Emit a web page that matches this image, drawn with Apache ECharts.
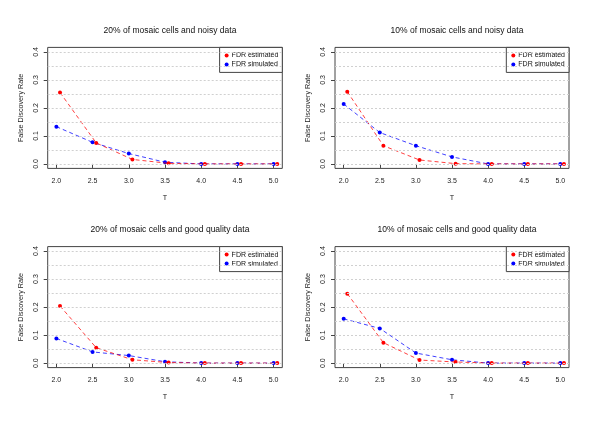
<!DOCTYPE html>
<html>
<head>
<meta charset="utf-8">
<script src="https://cdn.jsdelivr.net/npm/echarts@6/dist/echarts.min.js"></script>
<style>html,body{margin:0;padding:0;background:#fff}#c{width:600px;height:424px}</style>
</head>
<body>
<div id="c"></div>
<script>
// ---- data ----
var titles = [
  "20% of mosaic cells and noisy data",
  "10% of mosaic cells and noisy data",
  "20% of mosaic cells and good quality data",
  "10% of mosaic cells and good quality data"
];
var xEstimated = [2.05, 2.55, 3.05, 3.55, 4.05, 4.55, 5.05];
var xSimulated = [2.0, 2.5, 3.0, 3.5, 4.0, 4.5, 5.0];
var est1 = [0.255, 0.075, 0.016, 0.002, 0, 0, 0];
var sim1 = [0.133, 0.077, 0.037, 0.006, 0, 0, 0];
var est2 = [0.258, 0.065, 0.014, 0.001, 0, 0, 0];
var sim2 = [0.214, 0.112, 0.065, 0.025, 0, 0, 0];
var est3 = [0.204, 0.055, 0.012, 0.002, 0, 0, 0];
var sim3 = [0.088, 0.040, 0.027, 0.005, 0, 0, 0];
var est4 = [0.248, 0.073, 0.011, 0.004, 0, 0, 0];
var sim4 = [0.158, 0.124, 0.036, 0.012, 0, 0, 0];
var xTicks = [2.0, 2.5, 3.0, 3.5, 4.0, 4.5, 5.0];
var yTicks = [0.0, 0.1, 0.2, 0.3, 0.4];
var gridLevels = [0, 0.05, 0.1, 0.15, 0.2, 0.25, 0.3, 0.35, 0.4];
var seriesNames = ["FDR estimated", "FDR simulated"];

var estSets = [est1, est2, est3, est4];
var simSets = [sim1, sim2, sim3, sim4];

// ---- layout ----
var grids = [
  {left: 47.7, top: 47.4, width: 234.6, height: 121},
  {left: 335, top: 47.4, width: 234, height: 121},
  {left: 47.7, top: 246.6, width: 234.6, height: 121},
  {left: 335, top: 246.6, width: 234, height: 121}
];
var FONT = "Liberation Sans, Arial, Helvetica, sans-serif";
var AXC = "#444";

function pairs(xs, ys) { return xs.map(function (x, i) { return [x, ys[i]]; }); }

var option = {
  animation: false,
  backgroundColor: "#fff",
  textStyle: {fontFamily: FONT},
  title: [], grid: [], xAxis: [], yAxis: [], legend: [], series: []
};

grids.forEach(function (g, i) {
  option.grid.push({left: g.left, top: g.top, width: g.width, height: g.height,
    show: true, borderColor: AXC, borderWidth: 1, backgroundColor: "transparent"});
  option.title.push({text: titles[i], left: g.left + g.width / 2, top: g.top - 26.5,
    textAlign: "center",
    textStyle: {fontSize: 8.5, fontWeight: "normal", color: "#111", fontFamily: FONT}});
  option.xAxis.push({type: "value", gridIndex: i, min: 1.88, max: 5.12,
    name: "T", nameLocation: "middle", nameGap: 26,
    nameTextStyle: {fontSize: 7.2, color: "#222", fontFamily: FONT},
    axisLine: {show: false}, splitLine: {show: false},
    axisTick: {show: true, length: 4, lineStyle: {color: AXC}, customValues: xTicks},
    axisLabel: {fontSize: 7, color: "#222", margin: 9, customValues: xTicks,
      formatter: function (v) { return v.toFixed(1); }}});
  option.yAxis.push({type: "value", gridIndex: i, min: -0.016, max: 0.416,
    name: "False Discovery Rate", nameLocation: "middle", nameGap: 23,
    nameTextStyle: {fontSize: 7.2, color: "#222", fontFamily: FONT},
    axisLine: {show: false}, splitLine: {show: false},
    axisTick: {show: true, length: 4, lineStyle: {color: AXC}, customValues: yTicks},
    axisLabel: {fontSize: 7, color: "#222", margin: 8, rotate: 90, customValues: yTicks,
      formatter: function (v) { return v.toFixed(1); }}});
  option.legend.push({data: seriesNames, orient: "vertical",
    right: 600 - (g.left + g.width), top: g.top,
    borderColor: AXC, borderWidth: 1, borderRadius: 0, backgroundColor: "#fff",
    padding: [4.5, 4, 4.5, 5], itemGap: 2, itemWidth: 4, itemHeight: 4, icon: "circle",
    textStyle: {fontSize: 7, color: "#111", fontFamily: FONT, padding: [0, 0, 0, -2]}});
  // gridlines
  option.series.push({type: "line", name: "_grid" + i, xAxisIndex: i, yAxisIndex: i,
    data: [], z: 1, silent: true,
    markLine: {silent: true, symbol: ["none", "none"], animation: false,
      label: {show: false},
      lineStyle: {color: "#d0d0d0", type: [2, 2], width: 1},
      data: gridLevels.map(function (v) { return {yAxis: v}; })}});
  option.series.push({type: "line", name: seriesNames[1], xAxisIndex: i, yAxisIndex: i,
    data: pairs(xSimulated, simSets[i]), z: 3,
    symbol: "circle", symbolSize: 4, showSymbol: true,
    itemStyle: {color: "#0000ff"},
    lineStyle: {color: "rgba(0,0,255,0.75)", width: 1, type: [4, 3]}});
  option.series.push({type: "line", name: seriesNames[0], xAxisIndex: i, yAxisIndex: i,
    data: pairs(xEstimated, estSets[i]), z: 4,
    symbol: "circle", symbolSize: 4, showSymbol: true,
    itemStyle: {color: "#ff0000"},
    lineStyle: {color: "rgba(255,0,0,0.75)", width: 1, type: [4, 3]}});
});

var chart = echarts.init(document.getElementById("c"), null, {renderer: "canvas"});
chart.setOption(option);
</script>
</body>
</html>
